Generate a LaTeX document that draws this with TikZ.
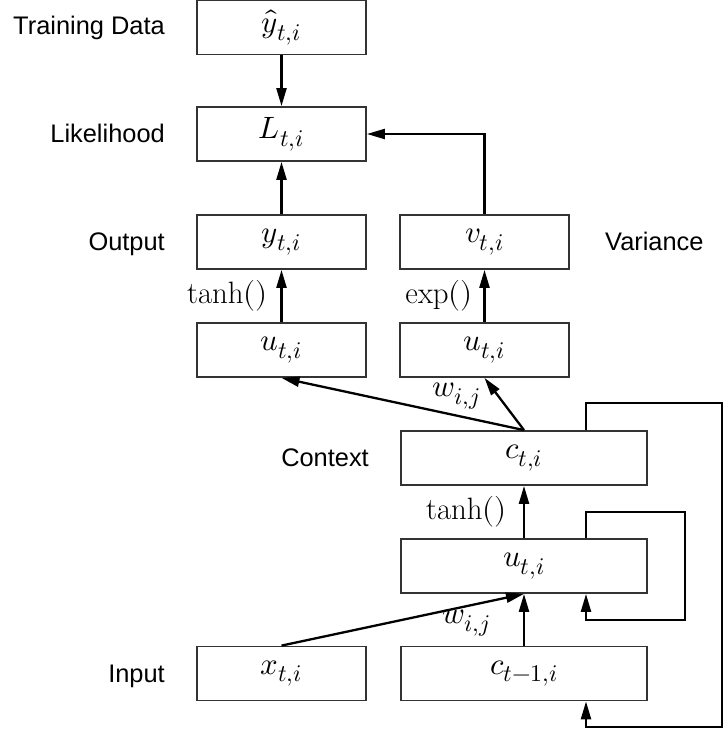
\documentclass[tikz,border=0pt]{standalone}
\usepackage{fontspec}
\usepackage{unicode-math}
\setsansfont{Liberation Sans}
\usetikzlibrary{arrows.meta,calc}

% larger script size for the indices
\DeclareMathSizes{31}{31}{24}{18}
\newcommand\mathsize{\fontsize{31}{36}\selectfont}
\newcommand\sidefont{\sffamily\fontsize{25.5}{30}\selectfont}

\tikzset{
  box/.style={draw=black!80, line width=1.8bp, minimum height=54bp,
              inner sep=0pt, font=\mathsize},
  narrow/.style={box, minimum width=169bp},
  wide/.style={box, minimum width=246bp},
  side/.style={font=\sidefont, inner sep=0pt},
  fn/.style={font=\mathsize, inner sep=0pt},
  conn/.style={line width=2.3bp, black,
               -{Triangle[length=18bp,width=10bp]}},
}

\begin{document}
\begin{tikzpicture}[x=1bp,y=-1bp]
  \useasboundingbox (0,0) rectangle (724,734);

  % boxes
  \node[narrow] (yhat)  at (281.5,27.5) {$\hat{y}_{t,i}$};
  \node[narrow] (L)     at (281.5,134)  {$L_{t,i}$};
  \node[narrow] (y)     at (281.5,242)  {$y_{t,i}$};
  \node[narrow] (v)     at (484.5,242)  {$v_{t,i}$};
  \node[narrow] (u1)    at (281.5,350)  {$u_{t,i}$};
  \node[narrow] (u2)    at (484.5,350)  {$u_{t,i}$};
  \node[wide]   (c)     at (524,458)    {$c_{t,i}$};
  \node[wide]   (u3)    at (524,566)    {$u_{t,i}$};
  \node[narrow] (x)     at (281.5,673.5){$x_{t,i}$};
  \node[wide]   (cprev) at (524,673.5)  {$c_{t-1,i}$};

  % row labels
  \node[side, anchor=base east] (ltrain) at (165,35)    {Training Data};
  \node[side, anchor=base east] (llik)   at (165,142.5) {Likelihood};
  \node[side, anchor=base east] (lout)   at (165,250.5) {Output};
  \node[side, anchor=base west] (lvar)   at (605,250.5) {Variance};
  \node[side, anchor=base east] (lctx)   at (369,466.5) {Context};
  \node[side, anchor=base east] (lin)    at (165,682)   {Input};

  % function labels
  \node[fn, anchor=east] (ftanh1) at (268,296)   {$\tanh()$};
  \node[fn, anchor=east] (fexp)   at (473,296)   {$\exp()$};
  \node[fn, anchor=east] (ftanh2) at (507,511.5) {$\tanh()$};
  \node[fn] (w1) at (456,396) {$w_{i,j}$};
  \node[fn] (w2) at (466,623) {$w_{i,j}$};

  % recurrent loop corners
  \coordinate (loopx) at (586,0);
  \coordinate (otr) at (722,403);
  \coordinate (obl) at (586,727);
  \coordinate (itr) at (685,512);
  \coordinate (ibl) at (586,620);

  % connectors
  \draw[conn] (yhat.south) -- (L.north);
  \draw[conn] (y.north) -- (L.south);
  \draw[conn] (v.north) |- (L.east);
  \draw[conn] (u1.north) -- (y.south);
  \draw[conn] (u2.north) -- (v.south);
  \draw[conn] (c.north) -- (u1.south);
  \draw[conn] (c.north) -- (u2.south);
  \draw[conn] (u3.north) -- (c.south);
  \draw[conn] (x.north) -- (u3.south);
  \draw[conn] (cprev.north) -- (u3.south);
  \draw[conn] (u3.north -| loopx) |- (itr) |- (ibl) -- (u3.south -| loopx);
  \draw[conn] (c.north -| loopx) |- (otr) |- (obl) -- (cprev.south -| loopx);
\end{tikzpicture}
\end{document}
